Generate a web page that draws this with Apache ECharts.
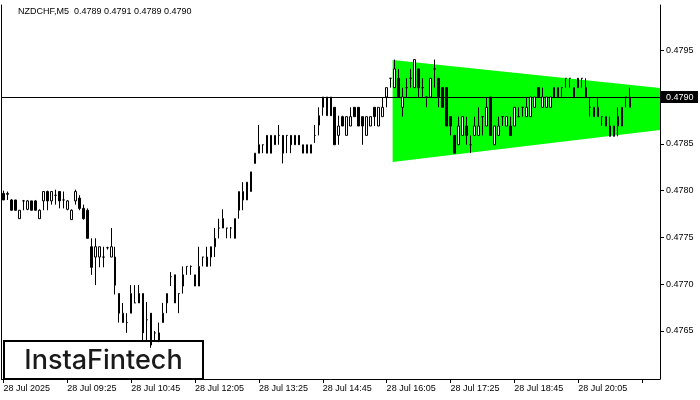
<!DOCTYPE html>
<html>
<head>
<meta charset="utf-8">
<script src="https://cdn.jsdelivr.net/npm/echarts@6/dist/echarts.min.js"></script>
<style>
html,body{margin:0;padding:0;background:#fff;}
#chart{width:700px;height:400px;}
</style>
</head>
<body>
<div id="chart"></div>
<script>
// ---- Data (NZDCHF, M5, 28 Jul 2025) ----
const firstBarTime = '08:05';
const barCount = 165; // slots on the time axis (last bars empty)
const tickLabels = ['28 Jul 2025','28 Jul 09:25','28 Jul 10:45','28 Jul 12:05','28 Jul 13:25',
  '28 Jul 14:45','28 Jul 16:05','28 Jul 17:25','28 Jul 18:45','28 Jul 20:05'];
const tickEvery = 16;
const yTicks = [0.4765, 0.4770, 0.4775, 0.4780, 0.4785, 0.4790, 0.4795];
const yMin = 0.475987, yMax = 0.479983;
const currentPrice = 0.4790;
const titleText = 'NZDCHF,M5  0.4789 0.4791 0.4789 0.4790';

const opens = [0.47797,0.47796,0.47790,0.47790,0.47770,0.47789,0.47780,0.47789,0.47789,0.47770,
0.47789,0.47799,0.47789,0.47795,0.47799,0.47790,0.47780,0.47769,0.47789,0.47792,
0.47781,0.47779,0.47740,0.47729,0.47729,0.47729,0.47739,0.47729,0.47729,0.47690,
0.47659,0.47659,0.47669,0.47680,0.47690,0.47690,0.47662,0.47669,0.47648,0.47640,
0.47659,0.47680,0.47708,0.47710,0.47690,0.47698,0.47719,0.47719,0.47698,0.47698,
0.47729,0.47719,0.47740,0.47740,0.47760,0.47770,0.47760,0.47760,0.47749,0.47779,
0.47790,0.47790,0.47799,0.47829,0.47849,0.47849,0.47859,0.47859,0.47849,0.47859,
0.47859,0.47859,0.47859,0.47859,0.47859,0.47840,0.47840,0.47840,0.47859,0.47870,
0.47889,0.47880,0.47900,0.47889,0.47859,0.47879,0.47859,0.47869,0.47889,0.47889,
0.47879,0.47859,0.47869,0.47889,0.47869,0.47879,0.47900,0.47920,0.47910,0.47920,
0.47889,0.47910,0.47920,0.47910,0.47930,0.47910,0.47900,0.47900,0.47930,0.47920,
0.47910,0.47910,0.47879,0.47859,0.47849,0.47859,0.47869,0.47849,0.47859,0.47859,
0.47879,0.47869,0.47900,0.47849,0.47859,0.47879,0.47869,0.47869,0.47869,0.47879,
0.47889,0.47879,0.47879,0.47889,0.47910,0.47889,0.47889,0.47889,0.47910,0.47910,
0.47910,0.47920,0.47920,0.47900,0.47920,0.47920,0.47910,0.47889,0.47879,0.47879,
0.47879,0.47869,0.47869,0.47869,0.47869,0.47869,0.47900,0.47889];

const closes = [0.47790,0.47797,0.47779,0.47779,0.47779,0.47789,0.47789,0.47779,0.47779,0.47779,
0.47799,0.47789,0.47799,0.47795,0.47789,0.47790,0.47789,0.47779,0.47799,0.47781,
0.47770,0.47749,0.47718,0.47740,0.47740,0.47729,0.47739,0.47740,0.47699,0.47669,
0.47669,0.47659,0.47690,0.47680,0.47680,0.47648,0.47662,0.47635,0.47648,0.47648,
0.47669,0.47690,0.47708,0.47680,0.47690,0.47710,0.47719,0.47719,0.47710,0.47719,
0.47729,0.47729,0.47729,0.47749,0.47760,0.47760,0.47760,0.47760,0.47770,0.47799,
0.47799,0.47809,0.47820,0.47840,0.47840,0.47849,0.47840,0.47840,0.47859,0.47859,
0.47840,0.47859,0.47849,0.47849,0.47849,0.47849,0.47849,0.47849,0.47859,0.47880,
0.47900,0.47900,0.47880,0.47849,0.47869,0.47869,0.47879,0.47879,0.47879,0.47869,
0.47869,0.47879,0.47879,0.47879,0.47889,0.47889,0.47910,0.47920,0.47930,0.47900,
0.47900,0.47910,0.47920,0.47940,0.47910,0.47910,0.47900,0.47920,0.47930,0.47900,
0.47889,0.47869,0.47869,0.47840,0.47869,0.47879,0.47859,0.47849,0.47869,0.47869,
0.47879,0.47889,0.47859,0.47869,0.47869,0.47879,0.47879,0.47859,0.47889,0.47879,
0.47889,0.47889,0.47900,0.47900,0.47900,0.47900,0.47900,0.47900,0.47900,0.47900,
0.47910,0.47920,0.47920,0.47910,0.47910,0.47920,0.47900,0.47889,0.47889,0.47889,
0.47879,0.47879,0.47858,0.47858,0.47879,0.47889,0.47900,0.47900];

const lows = [0.47790,0.47790,0.47779,0.47779,0.47770,0.47779,0.47779,0.47779,0.47779,0.47770,
0.47779,0.47779,0.47785,0.47785,0.47781,0.47781,0.47779,0.47769,0.47785,0.47779,
0.47769,0.47749,0.47710,0.47699,0.47718,0.47718,0.47737,0.47729,0.47689,0.47659,
0.47659,0.47648,0.47669,0.47680,0.47680,0.47640,0.47640,0.47632,0.47640,0.47638,
0.47659,0.47669,0.47698,0.47680,0.47669,0.47690,0.47710,0.47710,0.47698,0.47698,
0.47719,0.47719,0.47719,0.47729,0.47749,0.47760,0.47749,0.47749,0.47749,0.47770,
0.47779,0.47790,0.47799,0.47829,0.47840,0.47840,0.47840,0.47840,0.47849,0.47849,
0.47829,0.47840,0.47840,0.47849,0.47849,0.47840,0.47840,0.47840,0.47851,0.47859,
0.47880,0.47880,0.47880,0.47849,0.47849,0.47869,0.47859,0.47869,0.47879,0.47869,
0.47849,0.47859,0.47869,0.47869,0.47869,0.47879,0.47889,0.47910,0.47910,0.47900,
0.47879,0.47900,0.47910,0.47910,0.47900,0.47900,0.47889,0.47900,0.47910,0.47889,
0.47889,0.47869,0.47859,0.47840,0.47849,0.47859,0.47849,0.47840,0.47859,0.47859,
0.47859,0.47869,0.47859,0.47849,0.47859,0.47869,0.47869,0.47859,0.47869,0.47879,
0.47879,0.47879,0.47879,0.47889,0.47900,0.47889,0.47889,0.47889,0.47900,0.47900,
0.47900,0.47910,0.47910,0.47900,0.47910,0.47910,0.47900,0.47879,0.47879,0.47879,
0.47869,0.47869,0.47858,0.47858,0.47858,0.47869,0.47889,0.47889];

const highs = [0.47800,0.47799,0.47791,0.47790,0.47779,0.47790,0.47790,0.47789,0.47790,0.47780,
0.47799,0.47800,0.47799,0.47801,0.47799,0.47799,0.47790,0.47780,0.47801,0.47795,
0.47785,0.47781,0.47749,0.47749,0.47740,0.47740,0.47740,0.47760,0.47740,0.47690,
0.47680,0.47669,0.47699,0.47699,0.47699,0.47690,0.47681,0.47669,0.47650,0.47659,
0.47680,0.47690,0.47713,0.47710,0.47690,0.47719,0.47719,0.47720,0.47710,0.47740,
0.47729,0.47740,0.47740,0.47760,0.47770,0.47780,0.47760,0.47761,0.47770,0.47799,
0.47809,0.47809,0.47820,0.47840,0.47870,0.47849,0.47859,0.47859,0.47859,0.47870,
0.47859,0.47859,0.47859,0.47859,0.47859,0.47849,0.47849,0.47849,0.47870,0.47889,
0.47900,0.47900,0.47900,0.47889,0.47880,0.47880,0.47879,0.47889,0.47889,0.47889,
0.47879,0.47879,0.47879,0.47889,0.47889,0.47900,0.47910,0.47920,0.47940,0.47930,
0.47910,0.47920,0.47930,0.47940,0.47930,0.47920,0.47900,0.47920,0.47940,0.47920,
0.47910,0.47910,0.47879,0.47859,0.47879,0.47879,0.47879,0.47859,0.47879,0.47889,
0.47879,0.47900,0.47900,0.47869,0.47879,0.47879,0.47879,0.47879,0.47889,0.47889,
0.47889,0.47900,0.47900,0.47900,0.47910,0.47910,0.47900,0.47900,0.47910,0.47910,
0.47910,0.47920,0.47920,0.47910,0.47920,0.47920,0.47920,0.47900,0.47889,0.47900,
0.47879,0.47879,0.47879,0.47869,0.47889,0.47889,0.47900,0.47910];

// Symmetrical triangle pattern (time, upper bound, lower bound)
const patternTimes = ['16:15', '21:45'];
const patternUpper = [0.479395, 0.479096];
const patternLower = [0.478306, 0.478647];

// ---- Build ----
const times = [];
(function(){
  const p = firstBarTime.split(':');
  let m = (+p[0]) * 60 + (+p[1]);
  for (let i = 0; i < barCount; i++) {
    const t = m + i * 5;
    times.push(String(Math.floor(t / 60)).padStart(2, '0') + ':' + String(t % 60).padStart(2, '0'));
  }
})();
const candleData = opens.map((o, i) => [o, closes[i], lows[i], highs[i]]);
const pStart = times.indexOf(patternTimes[0]);
const pEnd = times.indexOf(patternTimes[1]);

const FONT = 'Liberation Sans';
const chart = echarts.init(document.getElementById('chart'), null, {renderer: 'canvas'});
chart.setOption({
  animation: false,
  backgroundColor: '#fff',
  title: {
    text: titleText, left: 18, top: 7, padding: 0,
    textStyle: {fontFamily: FONT, fontSize: 9, fontWeight: 'normal', color: '#000'}
  },
  grid: {left: 1.5, right: 40, top: 5, bottom: 21, containLabel: false},
  xAxis: {
    type: 'category', data: times, boundaryGap: true,
    axisLine: {show: true, lineStyle: {color: '#000', width: 1}},
    axisTick: {show: true, alignWithLabel: true, length: 4, lineStyle: {color: '#000'},
      interval: (i) => i % tickEvery === 0},
    axisLabel: {
      show: true, interval: (i) => i % tickEvery === 0, align: 'left', margin: 5,
      fontFamily: FONT, fontSize: 9, color: '#000',
      formatter: (v, i) => tickLabels[Math.round(i / tickEvery)] || ''
    },
    splitLine: {show: false}
  },
  yAxis: [{
    type: 'value', position: 'right', min: yMin, max: yMax, scale: true,
    axisLine: {show: true, lineStyle: {color: '#000', width: 1}},
    axisTick: {show: true, length: 4, inside: false, customValues: yTicks, lineStyle: {color: '#000'}},
    axisLabel: {show: true, customValues: yTicks, margin: 6, fontFamily: FONT, fontSize: 9, color: '#000',
      formatter: (v) => v.toFixed(4)},
    splitLine: {show: false}
  }, {
    type: 'value', position: 'left', min: yMin, max: yMax,
    axisLine: {show: true, onZero: false, lineStyle: {color: '#000', width: 1}},
    axisTick: {show: false}, axisLabel: {show: false}, splitLine: {show: false}
  }],
  series: [{
    type: 'custom', name: 'pattern', z: 1, clip: true,
    data: [[pStart, pEnd, patternUpper[0], patternLower[0], patternUpper[1], patternLower[1]]],
    renderItem: function (params, api) {
      const bw = api.size([1, 0])[0];
      const a = api.coord([api.value(0), api.value(2)]);
      const b = api.coord([api.value(0), api.value(3)]);
      const c = api.coord([api.value(1), api.value(5)]);
      const d = api.coord([api.value(1), api.value(4)]);
      return {
        type: 'polygon',
        shape: {points: [[a[0] - bw / 2, a[1]], [b[0] - bw / 2, b[1]], [c[0] + bw / 2, c[1]], [d[0] + bw / 2, d[1]]]},
        style: {fill: '#00ff00', stroke: null}
      };
    }
  }, {
    type: 'custom', name: 'price', z: 2, clip: false, silent: true,
    data: [[0, currentPrice]],
    renderItem: function (params, api) {
      const cs = params.coordSys;
      const y = Math.round(api.coord([0, api.value(1)])[1]) + 0.5;
      const x0 = cs.x, x1 = cs.x + cs.width;
      return {
        type: 'group',
        children: [{
          type: 'line', shape: {x1: x0, y1: y, x2: x1, y2: y},
          style: {stroke: '#000', lineWidth: 1}
        }, {
          type: 'rect', shape: {x: x1 + 1, y: y - 6.5, width: 37, height: 12},
          style: {fill: '#000'}, z2: 50
        }, {
          type: 'text', x: x1 + 6, y: y,
          style: {text: api.value(1).toFixed(4), fill: '#fff', fontFamily: FONT, fontSize: 9,
            verticalAlign: 'middle', align: 'left'}, z2: 51
        }]
      };
    }
  }, {
    type: 'candlestick', name: 'NZDCHF', z: 3,
    data: candleData,
    barWidth: 2,
    itemStyle: {
      color: '#ffffff', color0: '#000000',
      borderColor: '#000000', borderColor0: '#000000', borderColorDoji: '#000000',
      borderWidth: 1
    }
  }],
  graphic: [{
    type: 'group', left: 3, top: 340, z: 100,
    children: [{
      type: 'rect', shape: {x: 0, y: 0, width: 199, height: 38},
      style: {fill: '#fff', stroke: '#000', lineWidth: 2}
    }, {
      type: 'text', x: 99.5, y: 20,
      style: {text: 'InstaFintech', fontFamily: 'Inter', fontSize: 27, fontWeight: 500,
        fill: '#1a1a1a', align: 'center', verticalAlign: 'middle'}
    }]
  }]
});
</script>
</body>
</html>
